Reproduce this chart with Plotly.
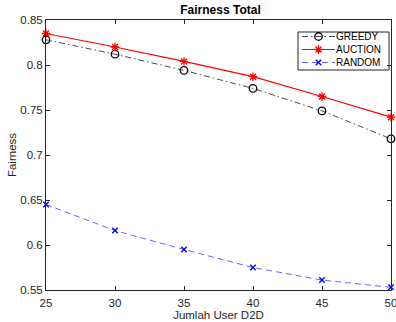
import plotly.graph_objects as go

users = [25, 30, 35, 40, 45, 50]
greedy = [0.828, 0.812, 0.794, 0.774, 0.749, 0.718]
auction = [0.835, 0.820, 0.804, 0.787, 0.765, 0.742]
random_alloc = [0.645, 0.616, 0.595, 0.575, 0.561, 0.553]
series_names = ["GREEDY", "AUCTION", "RANDOM"]

x_ticks = [25, 30, 35, 40, 45, 50]
y_ticks = [0.55, 0.6, 0.65, 0.7, 0.75, 0.8, 0.85]

font_family = "Liberation Sans, Arial, sans-serif"
axis_color = "#262626"

# Plot-area geometry in pixels (left, right, top, bottom)
W, H = 396, 322
PL, PR, PT, PB = 46, 391, 20, 290

styles = [
    dict(line=dict(color="#333333", width=0.9, dash="6px,3px,1.5px,3px"),
         marker=dict(symbol="circle-open", size=7.5, color="black", line=dict(width=1.3, color="black"))),
    dict(line=dict(color="#ff0000", width=1.2),
         marker=dict(symbol="asterisk-open", size=7, color="#ff0000", line=dict(width=1.3, color="#ff0000"))),
    dict(line=dict(color="#5555ff", width=0.9, dash="6px,4px"),
         marker=dict(symbol="x-thin-open", size=5.5, color="#0000ff", line=dict(width=1.4, color="#0000ff"))),
]

fig = go.Figure()
for name, ys, st in zip(series_names, [greedy, auction, random_alloc], styles):
    fig.add_trace(go.Scatter(x=users, y=ys, name=name, mode="lines+markers",
                             line=st["line"], marker=st["marker"], showlegend=False,
                             cliponaxis=False))

# Compact boxed legend drawn on a pixel-scaled overlay axis
box_l, box_r, box_t, box_b = 298, 389, 32, 70
row_y = [36.5, 49.5, 62.5]
sample_x0, sample_x1, text_x = 302, 335, 334
fig.add_shape(type="rect", xref="x2", yref="y2", x0=box_l, x1=box_r, y0=box_t, y1=box_b,
              line=dict(color=axis_color, width=1), fillcolor="white", layer="below")
for name, yy, st in zip(series_names, row_y, styles):
    fig.add_trace(go.Scatter(x=[sample_x0, sample_x1], y=[yy, yy], mode="lines",
                             line=st["line"], xaxis="x2", yaxis="y2",
                             showlegend=False, hoverinfo="skip"))
    fig.add_trace(go.Scatter(x=[(sample_x0 + sample_x1) / 2], y=[yy], mode="markers",
                             marker=st["marker"], xaxis="x2", yaxis="y2",
                             showlegend=False, hoverinfo="skip"))
    fig.add_annotation(x=text_x, y=yy, xref="x2", yref="y2", text=name, showarrow=False,
                       xanchor="left", yanchor="middle",
                       font=dict(family=font_family, size=10, color="black"))

axis_common = dict(
    showline=True, linecolor=axis_color, linewidth=1, mirror="allticks",
    ticks="inside", ticklen=4, tickcolor=axis_color, showgrid=False, zeroline=False,
    tickfont=dict(family=font_family, size=11.5, color=axis_color),
    ticklabeloverflow="allow", automargin=False,
)

fig.update_layout(
    width=W, height=H,
    margin=dict(l=PL, r=W - PR, t=PT, b=H - PB),
    paper_bgcolor="white", plot_bgcolor="white",
    title=dict(text="<b>Fairness Total</b>", x=220.5 / W, xanchor="center",
               y=1 - 10 / H, yanchor="middle",
               font=dict(family=font_family, size=12, color="black")),
    xaxis=dict(range=[25, 50], tickvals=x_ticks, ticktext=[str(v) for v in x_ticks],
               ticklabelstandoff=2,
               title=dict(text="Jumlah User D2D", standoff=1,
                          font=dict(family=font_family, size=11.5, color=axis_color)),
               **axis_common),
    yaxis=dict(range=[0.55, 0.85], tickvals=y_ticks, ticktext=[f"{v:g}" for v in y_ticks],
               title=dict(text="Fairness", standoff=1,
                          font=dict(family=font_family, size=11.5, color=axis_color)),
               **axis_common),
    xaxis2=dict(range=[PL, PR], overlaying="x", visible=False, fixedrange=True),
    yaxis2=dict(range=[PB, PT], overlaying="y", visible=False, fixedrange=True),
    showlegend=False,
)

fig.write_html("out.html")
